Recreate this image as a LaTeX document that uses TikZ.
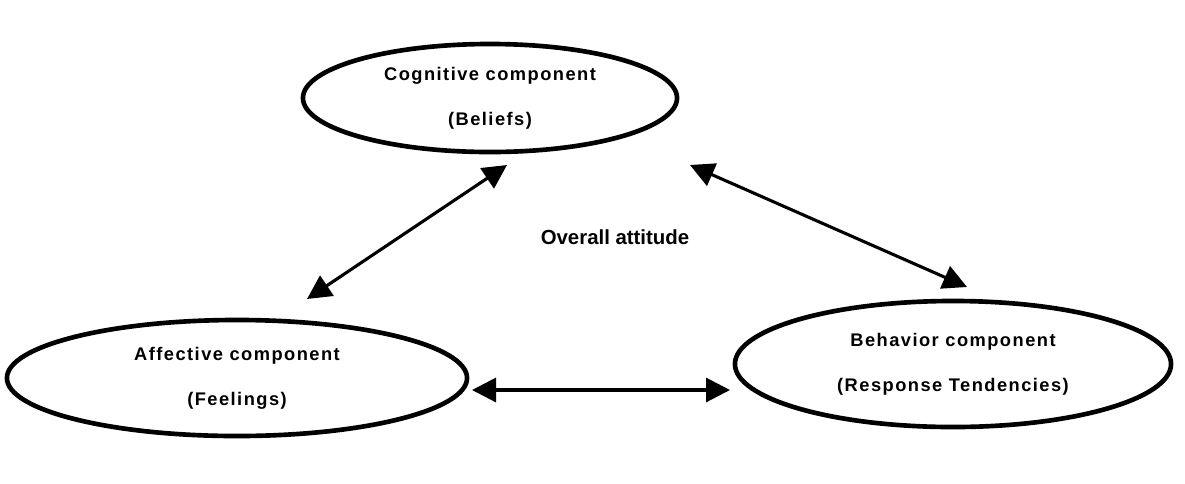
\documentclass[tikz,border=0pt]{standalone}
\usepackage{fontspec}
\setmainfont{Liberation Sans}
\newfontfamily\compfont[LetterSpace=8]{Liberation Sans}
\usetikzlibrary{shapes.geometric,arrows.meta}

\begin{document}
\begin{tikzpicture}[x=0.025cm, y=-0.025cm,
        comp/.style={ellipse, draw, line width=3.3pt, align=center, font=\compfont\bfseries\fontsize{13}{32}\selectfont},
        link/.style={line width=2.2pt, {Triangle[length=0.6cm,width=0.6cm]}-{Triangle[length=0.6cm,width=0.6cm]}}]
        \useasboundingbox (0,0) rectangle (1185,483);
        \node[comp, minimum width=9.35cm, minimum height=2.7cm] (cog) at (490,98) {Cognitive component\\(Beliefs)};
        \node[comp, minimum width=11.5cm, minimum height=2.9cm] (aff) at (237,378) {Affective component\\(Feelings)};
        \node[comp, minimum width=10.9cm, minimum height=3.15cm] (beh) at (953,364) {Behavior component\\(Response Tendencies)};
        \node[font=\bfseries\fontsize{14.5}{16}\selectfont] (att) at (615,237) {Overall attitude};
        \coordinate (cogL) at (507,165);
        \coordinate (cogR) at (690,165);
        \coordinate (affT) at (307,299);
        \coordinate (behT) at (967,287);
        \coordinate (affR) at (472,390);
        \coordinate (behL) at (730,390);
        \draw[link] (affT) -- (cogL);
        \draw[link] (cogR) -- (behT);
        \draw[link] (affR) -- (behL);
    \end{tikzpicture}
\end{document}
